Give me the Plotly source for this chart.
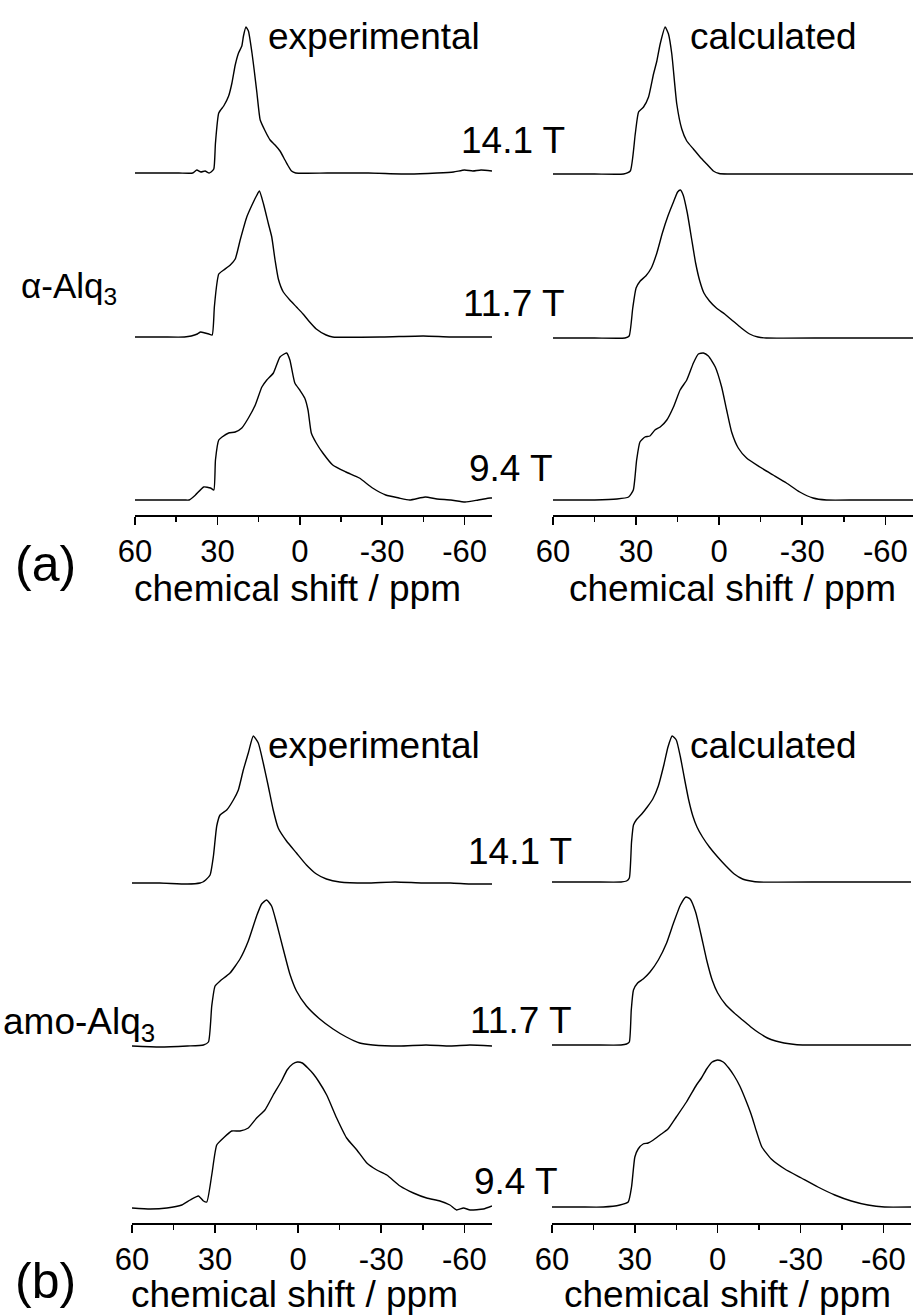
import plotly.graph_objects as go

W, H = 916, 1316
FONT = "Liberation Sans, Arial, Helvetica, sans-serif"

# ---- axis ticks ----
tick_vals = [60, 30, 0, -30, -60]
tick_text = ["60", "30", "0", "-30", "-60"]
minor_vals = [45, 15, -15, -45]
x_title = "chemical shift / ppm"

field_labels = ["14.1 T", "11.7 T", "9.4 T"]

# ---- alpha-Alq3, experimental spectra: (ppm, intensity) ----
alpha_exp_141 = [(60, 0), (52, 0), (44, 0), (39, 0), (37.5, 3), (36, 1), (34.5, 2), (33, 0), (32.3, 1),
                 (31.3, 4), (30.7, 30), (29.5, 60), (27.7, 67), (25.9, 77), (24.7, 90), (23.5, 108),
                 (22.3, 120), (21.1, 127), (20.5, 137), (19.6, 146), (18.7, 142), (17.4, 120),
                 (16.6, 103), (15.6, 80), (14.4, 53), (12.6, 42), (10.8, 33), (9.0, 28), (7.2, 22),
                 (5.4, 13), (4.2, 7), (3.0, 2), (1.5, 0), (-10, 0), (-25, 0), (-40, -1), (-50, 0),
                 (-56, 1), (-60, 3), (-63, 2), (-66, 3), (-70, 2)]
alpha_exp_117 = [(60, 0), (50, 0), (42, 0), (39.5, 1), (37.3, 3), (36.1, 5), (34.5, 4), (33.1, 3),
                 (31.9, 2), (31.1, 30), (30.1, 55), (29.5, 63), (27.7, 67), (25.3, 72), (23.5, 78),
                 (21.7, 97), (19.3, 120), (17.4, 132), (15.6, 142), (14.7, 146), (13.2, 133),
                 (11.4, 113), (10.2, 100), (9.0, 77), (7.8, 58), (6.0, 45), (3.6, 37), (1.2, 30),
                 (-1.2, 23), (-3.6, 15), (-6.0, 8), (-9.6, 2), (-12, 0), (-30, 0), (-45, 1), (-55, 0),
                 (-70, 0)]
alpha_exp_94 = [(60, 0), (50, 0), (42, 0), (40.3, 0), (38, 5), (35, 13), (32.5, 12), (31.3, 10),
                (30.7, 40), (29.5, 60), (28.3, 63), (25.9, 67), (23.5, 68), (21.1, 72), (18.7, 82),
                (16.2, 95), (13.8, 113), (12, 120), (9.6, 127), (7.2, 143), (4.8, 147), (3.6, 140),
                (1.8, 117), (0, 110), (-1.8, 102), (-3, 90), (-4.2, 67), (-6, 57), (-8.4, 47),
                (-12, 35), (-16.8, 28), (-21.7, 22), (-26.5, 12), (-31.3, 5), (-36.1, 2), (-40, 0),
                (-45.7, 3), (-50, 1), (-55, 0), (-60.2, -2), (-65, 0), (-69.3, 2), (-70, 2)]

# ---- alpha-Alq3, calculated spectra ----
alpha_calc_141 = [(60, 0), (45, 0), (34.5, 0), (32.1, 3), (30.3, 40), (29.1, 62), (27.3, 67), (25.5, 77),
                  (23.7, 100), (22.5, 113), (21.3, 130), (19.5, 147), (18.3, 140), (17.1, 120),
                  (15.3, 70), (13.5, 45), (11.7, 33), (9.3, 25), (6.9, 17), (4.5, 10), (2.1, 3),
                  (0, 0.5), (-3, 0), (-20, 0), (-70, 0)]
alpha_calc_117 = [(60, 0), (45, 0), (34, 0), (32.5, 2), (31.2, 30), (30, 50), (28.5, 57), (26.5, 62),
                  (24.5, 70), (22.5, 85), (20.5, 105), (18.5, 122), (16.5, 136), (15, 146), (14, 148),
                  (13, 143), (11.5, 125), (10, 100), (8.5, 75), (7, 57), (5.5, 45), (3.5, 37), (1, 30),
                  (-2, 24), (-5, 17), (-8, 10), (-11, 4), (-14, 1), (-17, 0), (-40, 0), (-70, 0)]
alpha_calc_94 = [(60, 0), (45, 0), (36.9, 1), (32.7, 3), (31.0, 10), (29.8, 40), (28.6, 58), (26.8, 63),
                 (25.0, 64), (23.2, 70), (21.3, 73), (18.9, 80), (16.5, 93), (14.1, 110), (11.7, 120),
                 (9.3, 137), (7.5, 146), (5.7, 147), (3.9, 144), (1.4, 133), (-0.9, 113), (-2.7, 90),
                 (-4.5, 68), (-6.9, 52), (-9.9, 42), (-14.7, 33), (-19.5, 25), (-24.3, 17), (-29.1, 8),
                 (-33.9, 2), (-38.7, 0), (-50, 0), (-70, 0)]

# ---- amorphous Alq3, experimental spectra ----
amo_exp_141 = [(60, 0), (50, 0), (40, -1), (35.4, 0), (34.4, 1), (33.4, 3), (31.8, 8), (30.6, 27),
               (29.4, 57), (28.2, 68), (25.8, 73), (23.4, 83), (21.6, 93), (19.8, 113), (18.0, 130),
               (16.2, 147), (14.4, 140), (12.6, 120), (10.8, 97), (9.0, 73), (7.2, 55), (4.2, 42),
               (0.6, 30), (-3.0, 18), (-6.6, 9), (-10.2, 4), (-15, 1), (-24.6, 0), (-35, 1),
               (-45, 0), (-55, 0), (-62, -1), (-70, -1)]
amo_exp_117 = [(60, 0), (50, -1), (40, 0), (34.2, 1), (32.4, 4), (31.2, 40), (30.0, 60), (28.2, 65),
               (24.6, 73), (21.0, 87), (18.0, 105), (15.0, 130), (13.2, 142), (11.4, 146), (9.6, 140),
               (7.8, 123), (5.4, 97), (3.0, 72), (0.6, 55), (-3.0, 40), (-7.8, 27), (-12.6, 17),
               (-17.4, 9), (-22.2, 3), (-27, 1), (-36.6, 0), (-46.2, 1), (-55, 0), (-62, 1), (-70, 0)]
amo_exp_94 = [(60, 0), (53.4, -1), (47.4, 0), (42.0, 3), (39.0, 8), (36.0, 12), (34.2, 7), (33.0, 6),
              (31.2, 33), (29.4, 63), (27.0, 70), (24.0, 77), (21.0, 77), (18.0, 80), (15.0, 90),
              (12.0, 98), (9.0, 113), (6.0, 127), (4.0, 138), (2, 144), (0.3, 146), (-1.5, 145),
              (-3.5, 140), (-5.5, 134), (-7.3, 127), (-10.3, 113), (-13.9, 90), (-17.5, 70),
              (-21.2, 58), (-24.8, 45), (-28.4, 38), (-32.0, 33), (-36.8, 22), (-41.6, 15),
              (-46.4, 10), (-51.2, 7), (-54.8, 3), (-57.2, -2), (-59.7, 0), (-62.1, -2), (-66.9, -1),
              (-70, 2)]

# ---- amorphous Alq3, calculated spectra ----
amo_calc_141 = [(60, 0), (45, 0), (35, 0), (33, 1), (32, 4), (31.2, 40), (30.5, 57), (29.5, 62),
                (27.5, 68), (25.5, 75), (23.5, 83), (21.5, 96), (19.5, 117), (18, 135), (16.5, 146),
                (15, 142), (13.5, 125), (12, 103), (10.5, 82), (9, 66), (7.5, 55), (5.5, 45), (3, 35),
                (0, 25), (-3, 16), (-6, 8), (-9, 3), (-12, 1), (-15, 0), (-40, 0), (-70, 0)]
amo_calc_117 = [(60, 0), (45, 0), (35, 0), (33, 1), (32, 3), (31.3, 35), (30.5, 55), (29, 62), (27, 66),
                (24.5, 73), (21.5, 85), (18.5, 102), (16, 122), (13.5, 140), (11.5, 148), (10, 146),
                (8, 133), (6, 110), (4, 85), (2, 65), (0, 52), (-3, 40), (-6, 32), (-9, 25), (-12, 18),
                (-15, 12), (-18, 7), (-21, 4), (-24, 2), (-28, 0.5), (-32, 0), (-50, 0), (-70, 0)]
amo_calc_94 = [(60, 0), (50, 0), (41.4, 0), (35.4, 2), (32.4, 5), (31.2, 20), (30.0, 50), (28.8, 58),
               (27.0, 63), (25.2, 64), (23.3, 67), (20.9, 72), (18.0, 78), (15.0, 90), (11.3, 105),
               (7.7, 122), (5.9, 129), (4, 138), (2, 145), (0, 147), (-2, 145), (-4, 139), (-6, 131),
               (-8, 121), (-10, 108), (-12.2, 92), (-14, 76), (-16.0, 60), (-19.4, 48), (-24.3, 38),
               (-30.3, 29), (-36.3, 20), (-42.4, 12), (-48.4, 6), (-54.4, 2), (-60.4, 0), (-70, 0)]

# vertical stacking of the three fields in each panel (baseline height)
stack_offsets = {
    "a_left": [342, 178, 15],
    "a_right": [341, 177, 15],
    "b_left": [340, 177, 15],
    "b_right": [341, 178, 16],
}

panels = [
    ("a_left", "x", "y", [alpha_exp_141, alpha_exp_117, alpha_exp_94]),
    ("a_right", "x2", "y2", [alpha_calc_141, alpha_calc_117, alpha_calc_94]),
    ("b_left", "x3", "y3", [amo_exp_141, amo_exp_117, amo_exp_94]),
    ("b_right", "x4", "y4", [amo_calc_141, amo_calc_117, amo_calc_94]),
]


def px(x):
    return x / W


def py(y):
    return 1 - y / H


fig = go.Figure()

for key, xa, ya, spectra in panels:
    for spec, base, name in zip(spectra, stack_offsets[key], field_labels):
        ppm = [p for p, _ in spec]
        inten = [base + v for _, v in spec]
        fig.add_trace(go.Scatter(
            x=ppm, y=inten, mode="lines",
            line=dict(color="black", width=1.4, shape="spline", smoothing=0.5),
            xaxis=xa, yaxis=ya, showlegend=False, name=name, hoverinfo="skip"))


def x_axis(left, right, anchor):
    return dict(
        domain=[px(left), px(right)], range=[60, -70], anchor=anchor, automargin=False,
        showline=True, linecolor="black", linewidth=1.5,
        ticks="outside", ticklen=8, tickwidth=1.5, tickcolor="black",
        tickmode="array", tickvals=tick_vals, ticktext=tick_text,
        minor=dict(tickmode="array", tickvals=minor_vals, ticks="outside",
                   ticklen=5, tickwidth=1.5, tickcolor="black", showgrid=False),
        showgrid=False, zeroline=False,
        tickfont=dict(family=FONT, size=31, color="black"),
    )


def y_axis(top, bottom, anchor):
    # intensity axis is not drawn
    return dict(domain=[py(bottom), py(top)], range=[0, 500], anchor=anchor,
                visible=False, automargin=False, showgrid=False, zeroline=False)


fig.update_layout(
    template="none",
    width=W, height=H,
    margin=dict(l=0, r=0, t=0, b=0, pad=0, autoexpand=False),
    paper_bgcolor="white", plot_bgcolor="white",
    font=dict(family=FONT, color="black"),
    showlegend=False,
    xaxis=x_axis(135, 492, "y"),
    xaxis2=x_axis(553, 913, "y2"),
    xaxis3=x_axis(132, 492, "y3"),
    xaxis4=x_axis(552, 911, "y4"),
    yaxis=y_axis(15, 515, "x"),
    yaxis2=y_axis(15, 515, "x2"),
    yaxis3=y_axis(723, 1223, "x3"),
    yaxis4=y_axis(723, 1223, "x4"),
)


def label(text, x, y, size, xanchor="center"):
    fig.add_annotation(text=text, x=px(x), y=py(y), xref="paper", yref="paper",
                       xanchor=xanchor, yanchor="middle", showarrow=False,
                       font=dict(family=FONT, size=size, color="black"))


# column headings
for y in (37, 745):
    label("experimental", 374, y, 37)
    label("calculated", 773, y, 37)

# field strengths
for text, x, y in zip(field_labels, [513, 513, 511], [141, 303, 468]):
    label(text, x, y, 37)
for text, x, y in zip(field_labels, [520, 520, 516], [852, 1020, 1181]):
    label(text, x, y, 37)

# sample names
label("\u03b1-Alq<sub>3</sub>", 19, 288, 35, xanchor="left")
label("amo-Alq<sub>3</sub>", 1, 1024, 37, xanchor="left")

# panel letters
label("(a)", 45, 564, 50)
label("(b)", 45, 1281, 50)

# axis titles under each panel
for x, y in [(297, 588), (732, 588), (294, 1294), (727, 1294)]:
    label(x_title, x, y, 37)

fig.write_html("out.html", config={"displayModeBar": False, "staticPlot": True})
